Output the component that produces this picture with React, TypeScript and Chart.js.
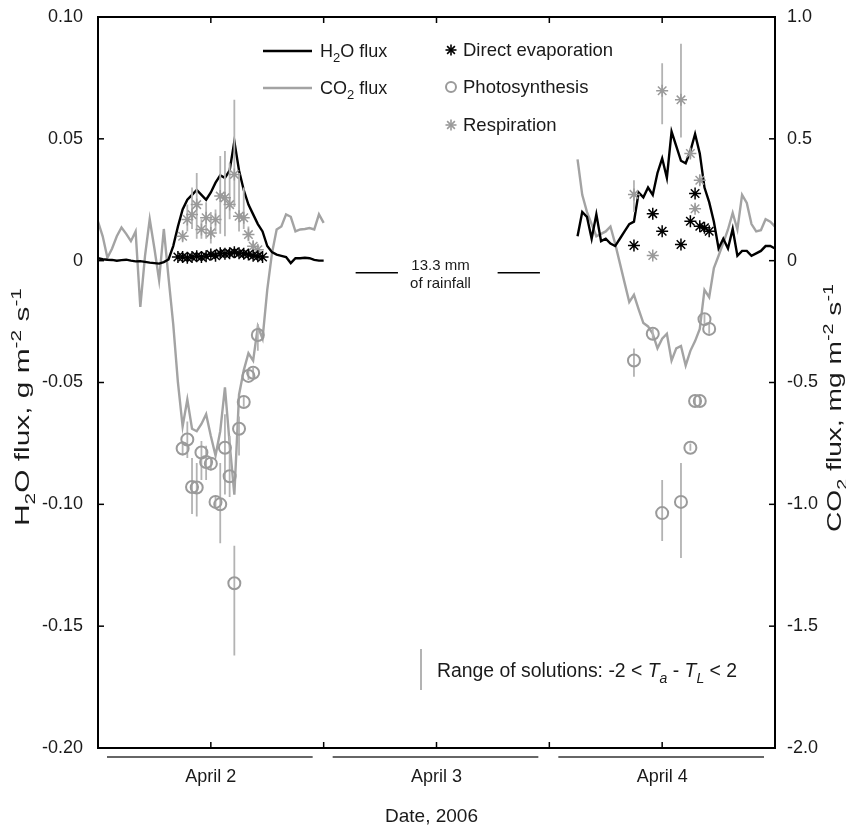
import React, { useEffect, useRef } from 'react';
import { Chart, registerables } from 'chart.js';

Chart.register(...registerables);

const FONT = '"Liberation Sans", Arial, Helvetica, sans-serif';
const TXT = '#1a1a1a';
const GRAY_LINE = '#a3a3a3';
const GRAY_MARK = '#9a9a9a';
const GRAY_BAR = '#b3b3b3';

// ---------- DATA (x in hours since 2 April 2006 00:00) ----------
const dayLabels = ['April 2', 'April 3', 'April 4'];
const dayNoonHours = [12, 36, 60];
const xTickHours = [12, 24, 36, 48, 60];
const leftTicks = [0.1, 0.05, 0, -0.05, -0.1, -0.15, -0.2];
const rightTicks = [1, 0.5, 0, -0.5, -1, -1.5, -2];

const apr2Hours = [
  0, 0.5, 1, 1.5, 2, 2.5, 3, 3.5, 4, 4.5, 5, 5.5, 6, 6.5, 7, 7.5, 8, 8.5, 9, 9.5,
  10, 10.5, 11, 11.5, 12, 12.5, 13, 13.5, 14, 14.5, 15, 15.5, 16, 16.5, 17, 17.5,
  18, 18.5, 19, 19.5, 20, 20.5, 21, 21.5, 22, 22.5, 23, 23.5, 24,
];
const h2oApr2 = [
  0.001, 0.0006, 0.0004, 0.0003, 0.0, 0.0002, 0.0004, 0.0, -0.0003, -0.0002,
  -0.0005, -0.0008, -0.001, -0.0012, -0.0006, 0.0005, 0.006, 0.014, 0.021, 0.025,
  0.027, 0.029, 0.027, 0.025, 0.028, 0.032, 0.035, 0.034, 0.037, 0.049,
  0.037, 0.029, 0.023, 0.019, 0.015, 0.012, 0.006, 0.0035, 0.0025, 0.002,
  0.0015, -0.001, 0.001, 0.001, 0.0012, 0.001, 0.0003, 0.0, 0.0,
];
const co2Apr2 = [
  0.16, 0.1, 0.012, 0.05, 0.1, 0.136, 0.11, 0.08, 0.12, -0.19,
  0.02, 0.17, 0.05, -0.08, 0.13, -0.07, -0.26, -0.5, -0.68, -0.57,
  -0.69, -0.7, -0.67, -0.63, -0.72, -0.8, -0.7, -0.52, -0.75, -0.96,
  -0.55, -0.45, -0.38, -0.41, -0.27, -0.32, -0.12, 0.03, 0.128, 0.14,
  0.19, 0.18, 0.12, 0.128, 0.13, 0.134, 0.128, 0.19, 0.155,
];

const apr4Hours = [
  51, 51.5, 52, 52.5, 53, 53.5, 54, 54.5, 55, 55.5, 56, 56.5, 57, 57.5, 58, 58.5,
  59, 59.5, 60, 60.5, 61, 61.5, 62, 62.5, 63, 63.5, 64, 64.5, 65, 65.5, 66, 66.5,
  67, 67.5, 68, 68.5, 69, 69.5, 70, 70.5, 71, 71.5, 72,
];
const h2oApr4 = [
  0.01, 0.02, 0.018, 0.009, 0.019, 0.008, 0.009, 0.007, 0.006, 0.009,
  0.012, 0.015, 0.016, 0.028, 0.026, 0.03, 0.027, 0.036, 0.042, 0.034,
  0.053, 0.047, 0.041, 0.04, 0.045, 0.052, 0.044, 0.03, 0.024, 0.016,
  0.005, 0.009, 0.005, 0.013, 0.002, 0.004, 0.004, 0.002, 0.003, 0.004,
  0.006, 0.006, 0.005,
];
const co2Apr4 = [
  0.416, 0.27, 0.2, 0.15, 0.1, 0.11, 0.12, 0.14, 0.07, -0.01,
  -0.09, -0.17, -0.14, -0.2, -0.256, -0.27, -0.3, -0.36, -0.32, -0.3,
  -0.41, -0.36, -0.35, -0.43, -0.37, -0.33, -0.28, -0.12, -0.15, -0.03,
  0.02, 0.073, 0.128, 0.196, 0.128, 0.27, 0.237, 0.15, 0.12, 0.125,
  0.17, 0.16, 0.14,
];

// Direct evaporation (g m-2 s-1)
const evapHours = [
  8.5, 9, 9.5, 10, 10.5, 11, 11.5, 12, 12.5, 13, 13.5, 14, 14.5, 15, 15.5, 16, 16.5, 17, 17.5,
  57, 59, 60, 62, 63, 63.5, 64, 64.5, 65,
];
const evapVals = [
  0.0015, 0.0015, 0.0012, 0.0015, 0.0018, 0.0015, 0.0018, 0.0025, 0.002, 0.003,
  0.0028, 0.003, 0.0035, 0.003, 0.0028, 0.0025, 0.002, 0.0018, 0.0015,
  0.0062, 0.0193, 0.0121, 0.0066, 0.0162, 0.0276, 0.0141, 0.0135, 0.0121,
];

// Photosynthesis (mg m-2 s-1) with range of solutions
const photoHours = [
  9, 9.5, 10, 10.5, 11, 11.5, 12, 12.5, 13, 13.5, 14, 14.5, 15, 15.5, 16, 16.5, 17,
  57, 59, 60, 62, 63, 63.5, 64, 64.5, 65,
];
const photoVals = [
  -0.771, -0.734, -0.929, -0.931, -0.787, -0.826, -0.833, -0.99, -1.0, -0.768,
  -0.885, -1.324, -0.69, -0.58, -0.473, -0.46, -0.305,
  -0.41, -0.3, -1.036, -0.99, -0.768, -0.576, -0.576, -0.24, -0.28,
];
const photoLo = [
  -0.8, -0.81, -1.04, -1.05, -0.9, -0.9, -0.86, -1.01, -1.16, -0.96,
  -0.97, -1.62, -0.8, -0.6, -0.49, -0.48, -0.37,
  -0.476, -0.32, -1.15, -1.22, -0.78, -0.59, -0.59, -0.26, -0.3,
];
const photoHi = [
  -0.74, -0.66, -0.81, -0.83, -0.74, -0.76, -0.81, -0.97, -0.83, -0.63,
  -0.72, -1.17, -0.64, -0.56, -0.45, -0.44, -0.26,
  -0.36, -0.28, -0.9, -0.83, -0.75, -0.56, -0.56, -0.22, -0.26,
];

// Respiration (mg m-2 s-1) with range of solutions
const respHours = [
  9, 9.5, 10, 10.5, 11, 11.5, 12, 12.5, 13, 13.5, 14, 14.5, 15, 15.5, 16, 16.5, 17,
  57, 59, 60, 62, 63, 63.5, 64,
];
const respVals = [
  0.1, 0.169, 0.189, 0.23, 0.128, 0.176, 0.114, 0.169, 0.265, 0.258,
  0.23, 0.354, 0.182, 0.176, 0.107, 0.059, 0.045,
  0.272, 0.021, 0.697, 0.66, 0.44, 0.213, 0.33,
];
const respLo = [
  0.08, 0.12, 0.13, 0.09, 0.09, 0.09, 0.07, 0.12, 0.11, 0.1,
  0.17, 0.22, 0.12, 0.13, 0.08, 0.04, 0.03,
  0.2, 0.01, 0.56, 0.505, 0.42, 0.2, 0.31,
];
const respHi = [
  0.12, 0.23, 0.3, 0.36, 0.17, 0.24, 0.2, 0.21, 0.43, 0.45,
  0.4, 0.66, 0.36, 0.3, 0.14, 0.08, 0.06,
  0.33, 0.03, 0.81, 0.89, 0.46, 0.23, 0.35,
];

// rainfall annotation (hours, H2O-axis value)
const rainLineA = [27.4, 31.9];
const rainLineB = [42.5, 47.0];
const rainLevel = -0.005;
const rainText = ['13.3 mm', 'of rainfall'];
const rainTextHour = 36;

// ---------- helpers ----------
type Part = { t: string; s?: 'sub' | 'sup'; i?: boolean };

function partFont(p: Part, size: number) {
  const sz = p.s ? Math.round(size * 0.7) : size;
  return `${p.i ? 'italic ' : ''}${sz}px ${FONT}`;
}
function richWidth(ctx: CanvasRenderingContext2D, parts: Part[], size: number) {
  let w = 0;
  for (const p of parts) {
    ctx.font = partFont(p, size);
    w += ctx.measureText(p.t).width;
  }
  return w;
}
function drawRich(
  ctx: CanvasRenderingContext2D,
  parts: Part[],
  x: number,
  baseline: number,
  size: number,
  align: 'left' | 'center'
) {
  let cx = align === 'center' ? x - richWidth(ctx, parts, size) / 2 : x;
  ctx.textAlign = 'left';
  ctx.textBaseline = 'alphabetic';
  for (const p of parts) {
    ctx.font = partFont(p, size);
    const dy = p.s === 'sub' ? size * 0.3 : p.s === 'sup' ? -size * 0.4 : 0;
    ctx.fillText(p.t, cx, baseline + dy);
    cx += ctx.measureText(p.t).width;
  }
}
function seg(ctx: CanvasRenderingContext2D, x1: number, y1: number, x2: number, y2: number) {
  ctx.beginPath();
  ctx.moveTo(x1, y1);
  ctx.lineTo(x2, y2);
  ctx.stroke();
}
function asterisk(ctx: CanvasRenderingContext2D, x: number, y: number, r: number) {
  for (let k = 0; k < 4; k++) {
    const a = (k * Math.PI) / 4;
    seg(ctx, x - r * Math.cos(a), y - r * Math.sin(a), x + r * Math.cos(a), y + r * Math.sin(a));
  }
}
function verticalTitle(
  ctx: CanvasRenderingContext2D,
  parts: Part[],
  cx: number,
  cy: number,
  size: number,
  length: number
) {
  ctx.save();
  ctx.translate(cx, cy);
  ctx.rotate(-Math.PI / 2);
  const w = richWidth(ctx, parts, size);
  ctx.scale(length / w, 1);
  drawRich(ctx, parts, 0, size * 0.35, size, 'center');
  ctx.restore();
}

function pts(xs: number[], ys: number[]) {
  return xs.map((x, i) => ({ x, y: ys[i] }));
}
function bars(xs: number[], lo: number[], hi: number[]) {
  const out: { x: number; y: number | null }[] = [];
  xs.forEach((x, i) => {
    out.push({ x, y: lo[i] }, { x, y: hi[i] }, { x, y: null });
  });
  return out;
}

const decorPlugin = {
  id: 'decor',
  afterDraw(chart: any) {
    const ctx: CanvasRenderingContext2D = chart.ctx;
    const { left, right, top, bottom } = chart.chartArea;
    const xs = chart.scales.x;
    const yl = chart.scales.y;
    const yr = chart.scales.y2;
    ctx.save();

    // frame
    ctx.strokeStyle = '#000';
    ctx.lineWidth = 2;
    ctx.strokeRect(left, top, right - left, bottom - top);

    // inward ticks
    ctx.lineWidth = 1.5;
    for (const v of leftTicks) {
      const y = yl.getPixelForValue(v);
      seg(ctx, left, y, left + 6, y);
    }
    for (const v of rightTicks) {
      const y = yr.getPixelForValue(v);
      seg(ctx, right - 6, y, right, y);
    }
    for (const h of xTickHours) {
      const x = xs.getPixelForValue(h);
      seg(ctx, x, bottom, x, bottom - 6);
      seg(ctx, x, top, x, top + 6);
    }

    // day underlines and labels
    ctx.strokeStyle = '#333';
    ctx.lineWidth = 1.5;
    for (let d = 0; d < 3; d++) {
      const x0 = xs.getPixelForValue(d * 24) + 9;
      const x1 = xs.getPixelForValue((d + 1) * 24) - 11;
      seg(ctx, x0, bottom + 9, x1, bottom + 9);
    }
    ctx.fillStyle = TXT;
    ctx.font = `18px ${FONT}`;
    ctx.textAlign = 'center';
    ctx.textBaseline = 'alphabetic';
    dayLabels.forEach((lab, d) => {
      ctx.fillText(lab, xs.getPixelForValue(dayNoonHours[d]), bottom + 34);
    });
    ctx.font = `19px ${FONT}`;
    ctx.fillText('Date, 2006', (left + right) / 2 - 5, 822);

    // axis titles
    ctx.fillStyle = TXT;
    verticalTitle(
      ctx,
      [
        { t: 'H' }, { t: '2', s: 'sub' }, { t: 'O flux, g m' }, { t: '-2', s: 'sup' },
        { t: ' s' }, { t: '-1', s: 'sup' },
      ],
      22, 407, 20, 238
    );
    verticalTitle(
      ctx,
      [
        { t: 'CO' }, { t: '2', s: 'sub' }, { t: ' flux, mg m' }, { t: '-2', s: 'sup' },
        { t: ' s' }, { t: '-1', s: 'sup' },
      ],
      834, 408, 20, 248
    );

    // legend
    ctx.lineWidth = 2.5;
    ctx.strokeStyle = '#000';
    seg(ctx, 263, 51, 312, 51);
    ctx.strokeStyle = GRAY_LINE;
    seg(ctx, 263, 88, 312, 88);
    ctx.fillStyle = TXT;
    drawRich(ctx, [{ t: 'H' }, { t: '2', s: 'sub' }, { t: 'O flux' }], 320, 57, 18, 'left');
    drawRich(ctx, [{ t: 'CO' }, { t: '2', s: 'sub' }, { t: ' flux' }], 320, 94, 18, 'left');
    ctx.lineWidth = 1.6;
    ctx.strokeStyle = '#000';
    asterisk(ctx, 451, 50, 5.5);
    ctx.strokeStyle = GRAY_MARK;
    ctx.lineWidth = 2;
    ctx.beginPath();
    ctx.arc(451, 87, 5, 0, Math.PI * 2);
    ctx.stroke();
    ctx.lineWidth = 1.6;
    asterisk(ctx, 451, 125, 5.5);
    ctx.fillStyle = TXT;
    ctx.font = `18.5px ${FONT}`;
    ctx.textAlign = 'left';
    ctx.fillText('Direct evaporation', 463, 56);
    ctx.fillText('Photosynthesis', 463, 93);
    ctx.fillText('Respiration', 463, 131);

    // rainfall annotation
    ctx.strokeStyle = '#000';
    ctx.lineWidth = 1.5;
    const ry = yl.getPixelForValue(rainLevel);
    seg(ctx, xs.getPixelForValue(rainLineA[0]), ry, xs.getPixelForValue(rainLineA[1]), ry);
    seg(ctx, xs.getPixelForValue(rainLineB[0]), ry, xs.getPixelForValue(rainLineB[1]), ry);
    ctx.fillStyle = TXT;
    ctx.font = `15px ${FONT}`;
    ctx.textAlign = 'center';
    const rx = xs.getPixelForValue(rainTextHour) + 4;
    ctx.fillText(rainText[0], rx, ry - 3);
    ctx.fillText(rainText[1], rx, ry + 15);

    // range-of-solutions key
    ctx.strokeStyle = GRAY_BAR;
    ctx.lineWidth = 2;
    seg(ctx, 421, 649, 421, 690);
    ctx.fillStyle = TXT;
    drawRich(
      ctx,
      [
        { t: 'Range of solutions: -2 < ' }, { t: 'T', i: true }, { t: 'a', s: 'sub', i: true },
        { t: ' - ' }, { t: 'T', i: true }, { t: 'L', s: 'sub', i: true }, { t: ' < 2' },
      ],
      437, 677, 19.4, 'left'
    );

    ctx.restore();
  },
};

export default function App() {
  const ref = useRef<HTMLCanvasElement | null>(null);

  useEffect(() => {
    if (!ref.current) return;
    const h2oData = [...pts(apr2Hours, h2oApr2), { x: 36, y: null }, ...pts(apr4Hours, h2oApr4)];
    const co2Data = [...pts(apr2Hours, co2Apr2), { x: 36, y: null }, ...pts(apr4Hours, co2Apr4)];

    const chart = new Chart(ref.current, {
      type: 'line',
      data: {
        datasets: [
          {
            label: 'Direct evaporation',
            data: pts(evapHours, evapVals),
            yAxisID: 'y',
            showLine: false,
            pointStyle: 'star',
            pointRadius: 6,
            borderColor: '#000',
            backgroundColor: '#000',
            pointBorderWidth: 1.5,
            order: 0,
          },
          {
            label: 'Photosynthesis',
            data: pts(photoHours, photoVals),
            yAxisID: 'y2',
            showLine: false,
            pointStyle: 'circle',
            pointRadius: 6,
            borderColor: GRAY_MARK,
            backgroundColor: 'rgba(0,0,0,0)',
            pointBorderWidth: 2,
            order: 1,
          },
          {
            label: 'Respiration',
            data: pts(respHours, respVals),
            yAxisID: 'y2',
            showLine: false,
            pointStyle: 'star',
            pointRadius: 6,
            borderColor: GRAY_MARK,
            backgroundColor: GRAY_MARK,
            pointBorderWidth: 1.5,
            order: 1,
          },
          {
            label: 'Photosynthesis range',
            data: bars(photoHours, photoLo, photoHi),
            yAxisID: 'y2',
            borderColor: GRAY_BAR,
            borderWidth: 1.8,
            pointRadius: 0,
            spanGaps: false,
            order: 2,
          },
          {
            label: 'Respiration range',
            data: bars(respHours, respLo, respHi),
            yAxisID: 'y2',
            borderColor: GRAY_BAR,
            borderWidth: 1.8,
            pointRadius: 0,
            spanGaps: false,
            order: 2,
          },
          {
            label: 'H2O flux',
            data: h2oData,
            yAxisID: 'y',
            borderColor: '#000',
            borderWidth: 2.4,
            pointRadius: 0,
            spanGaps: false,
            order: 3,
          },
          {
            label: 'CO2 flux',
            data: co2Data,
            yAxisID: 'y2',
            borderColor: GRAY_LINE,
            borderWidth: 2.4,
            pointRadius: 0,
            spanGaps: false,
            order: 4,
          },
        ],
      },
      options: {
        animation: false,
        responsive: true,
        maintainAspectRatio: false,
        layout: { padding: { top: 17, left: 0, right: 0, bottom: 0 } },
        elements: { line: { tension: 0 } },
        plugins: { legend: { display: false }, tooltip: { enabled: false } },
        scales: {
          x: {
            type: 'linear',
            min: 0,
            max: 72,
            grid: { display: false },
            border: { display: false },
            ticks: { display: false },
            afterFit: (s: any) => {
              s.height = 80;
              s.paddingLeft = 0;
              s.paddingRight = 0;
            },
          },
          y: {
            type: 'linear',
            position: 'left',
            min: -0.2,
            max: 0.1,
            grid: { display: false, drawTicks: false },
            border: { display: false },
            ticks: {
              stepSize: 0.05,
              padding: 15,
              color: TXT,
              font: { family: FONT, size: 18 },
              callback: (v: any) => (Math.abs(v) < 1e-9 ? '0' : Number(v).toFixed(2)),
            },
            afterFit: (s: any) => {
              s.width = 98;
              s.paddingTop = 0;
              s.paddingBottom = 0;
            },
          },
          y2: {
            type: 'linear',
            position: 'right',
            min: -2,
            max: 1,
            grid: { display: false, drawTicks: false },
            border: { display: false },
            ticks: {
              stepSize: 0.5,
              padding: 12,
              color: TXT,
              font: { family: FONT, size: 18 },
              callback: (v: any) => (Math.abs(v) < 1e-9 ? '0' : Number(v).toFixed(1)),
            },
            afterFit: (s: any) => {
              s.width = 71;
              s.paddingTop = 0;
              s.paddingBottom = 0;
            },
          },
        },
      },
      plugins: [decorPlugin],
    } as any);
    return () => chart.destroy();
  }, []);

  return (
    <div style={{ position: 'fixed', left: 0, top: 0, width: 846, height: 828, background: '#fff' }}>
      <canvas ref={ref} />
    </div>
  );
}
